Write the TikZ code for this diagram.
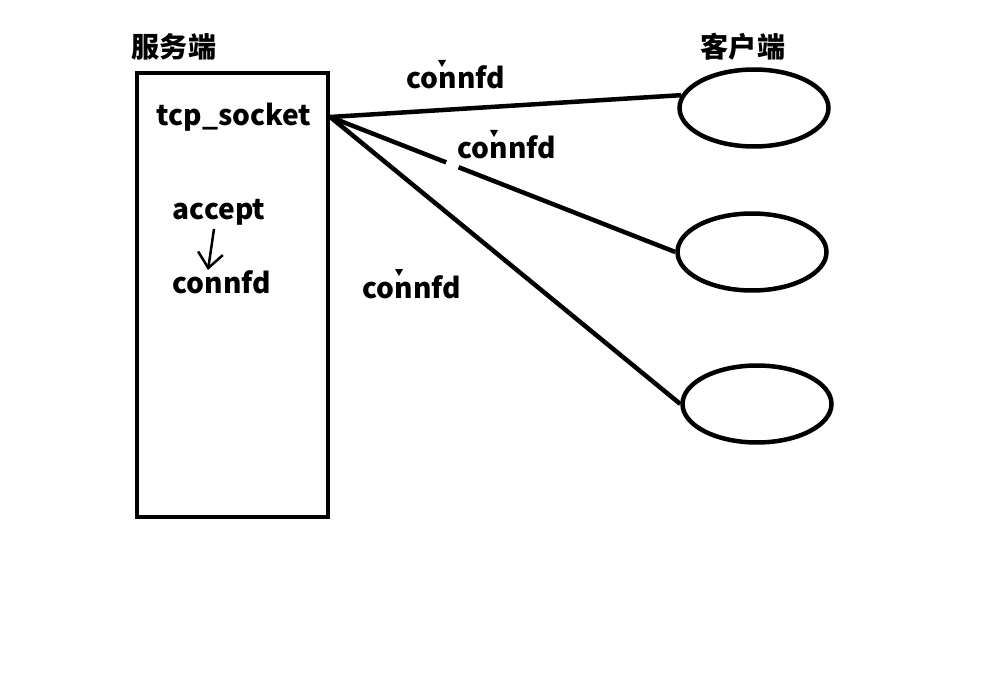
\documentclass[tikz,border=0pt]{standalone}
\usepackage{fontspec}
\setmainfont{Noto Sans CJK SC}
\usepackage{tikz}
\usetikzlibrary{
arrows.meta,
positioning,
shapes.geometric,
calc
}

\begin{document}
\begin{tikzpicture}[x=0.02cm, y=-0.02cm,
  label/.style={font=\fontsize{16}{18}\selectfont\bfseries, inner sep=0pt},
  server/.style={draw, line width=0.09cm, minimum width=3.82cm,
                 minimum height=8.88cm, inner sep=0pt},
  client/.style={draw, ellipse, line width=0.09cm, minimum width=2.98cm,
                 minimum height=1.54cm, inner sep=0pt},
  link/.style={line width=0.09cm},
  caret/.style={fill=black}
]
\useasboundingbox (0,0) rectangle (1003,682);

%% Server side
\node[label] (stitle) at (174,47) {服务端};
\node[server] (server) at (232.5,295) {};
\node[label] (tcp) at (234,117) {tcp\_socket};
\node[label] (accept) at (219,212) {accept};
\node[label] (conn) at (222,282) {connfd};

%% Arrow: accept gives connfd
\draw[line width=0.05cm, -{Straight Barb[length=0.3cm, width=0.5cm]}]
  (214,229) -- (208,270);

%% Client side
\node[label] (ctitle) at (743,47) {客户端};
\node[client] (c1) at (754,108) {};
\node[client] (c2) at (752,252) {};
\node[client] (c3) at (757,404) {};

%% Links from tcp_socket to clients
\coordinate (hub) at (server.east |- tcp.east);
\draw[link] (hub) -- (c1.170);
\coordinate (gapA) at ($(hub)!0.336!(c2.west)$);
\coordinate (gapB) at ($(hub)!0.372!(c2.west)$);
\draw[link] (hub) -- (gapA);
\draw[link] (gapB) -- (c2.west);
\draw[link] (hub) -- (c3.west);

%% Link labels
\node[label] (l1) at (456,77) {connfd};
\node[label] (l2) at (507,147) {connfd};
\node[label] (l3) at (412,287) {connfd};

%% Small marks above the labels
\foreach \cx/\cy in {442/63, 494/133, 399/272}
  \fill[caret] (\cx-4,\cy-3) -- (\cx+4,\cy-3) -- (\cx,\cy+4) -- cycle;

\end{tikzpicture}
\end{document}
